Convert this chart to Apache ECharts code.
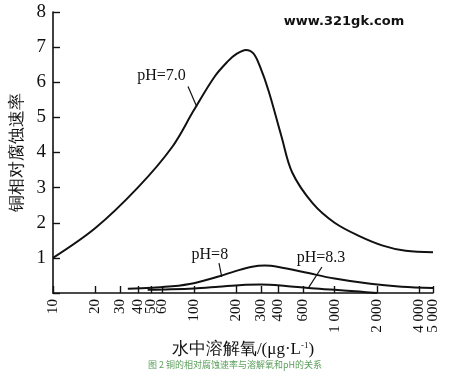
<!DOCTYPE html>
<html>
<head>
<meta charset="utf-8">
<script src="https://cdn.jsdelivr.net/npm/echarts@6/dist/echarts.min.js"></script>
<style>
  html, body { margin: 0; padding: 0; background: #fff; }
  #main { width: 459px; height: 376px; }
</style>
</head>
<body>
<div id="main"></div>
<script>
// tick values on the (log) oxygen axis
var xTicks = [10, 20, 30, 40, 50, 60, 100, 200, 300, 400, 600, 1000, 2000, 4000, 5000];
// labels that sit too close to a neighbour go on a second, bare axis
var xCrowded = [4000];

// pH = 7.0
var ph7X = [10, 20, 40, 70, 100, 140, 175, 200, 235, 265, 295, 340, 420, 500, 700, 1000, 1500, 2200, 3200, 5000];
var ph7Y = [1.0, 1.85, 3.0, 4.15, 5.2, 6.15, 6.6, 6.8, 6.92, 6.82, 6.45, 5.75, 4.45, 3.43, 2.55, 2.0, 1.62, 1.35, 1.2, 1.16];
// pH = 8
var ph8X = [34, 50, 70, 100, 150, 200, 260, 320, 400, 600, 1000, 1800, 3000, 5000];
var ph8Y = [0.12, 0.15, 0.19, 0.28, 0.47, 0.63, 0.75, 0.78, 0.74, 0.6, 0.41, 0.26, 0.18, 0.14];
// pH = 8.3
var ph83X = [47, 60, 100, 150, 220, 300, 450, 650, 1000, 1500, 2000];
var ph83Y = [0.09, 0.1, 0.13, 0.18, 0.23, 0.24, 0.2, 0.14, 0.09, 0.04, 0.0];

// curve labels: text, label position, leader start, leader end (data coords)
var labelText = ['pH=7.0', 'pH=8', 'pH=8.3'];
var labelAt = [[59, 6.19], [130, 1.08], [800, 1.0]];
var leaderFrom = [[91, 5.88], [151, 0.85], [813, 0.74]];
var leaderTo = [[105, 5.3], [158, 0.46], [650, 0.14]];

function lg(v) { return Math.log10(v); }
function pairs(xs, ys) {
  return xs.map(function (x, i) { return [lg(x), ys[i]]; });
}
function fmt(v) {
  var n = Math.round(v);
  return n >= 1000 ? Math.floor(n / 1000) + ' ' + String(n % 1000).padStart(3, '0') : String(n);
}

var serif = 'Liberation Serif';
var chart = echarts.init(document.getElementById('main'));

function lineSeries(xs, ys) {
  return {
    type: 'line',
    data: pairs(xs, ys),
    smooth: 0.35,
    showSymbol: false,
    lineStyle: { color: '#111', width: 2 },
    silent: true
  };
}

var xLabel = {
  rotate: 90, fontFamily: serif, fontSize: 15, color: '#111', margin: 6,
  hideOverlap: false, showMinLabel: true, showMaxLabel: true,
  formatter: function (v) { return fmt(Math.pow(10, v)); }
};

chart.setOption({
  animation: false,
  grid: { left: 53, right: 26, top: 12, bottom: 83 },
  xAxis: [{
    type: 'value',
    min: lg(10),
    max: lg(5000),
    name: '水中溶解氧/(μg·L{sup|-1})',
    nameLocation: 'middle',
    nameGap: 35,
    nameTextStyle: {
      fontFamily: serif, fontSize: 17, color: '#111',
      rich: { sup: { fontFamily: serif, fontSize: 9, color: '#111', verticalAlign: 'top', padding: [0, 0, 8, 0] } }
    },
    axisLine: { lineStyle: { color: '#111', width: 1.6 } },
    axisTick: { inside: true, length: 7, lineStyle: { color: '#111', width: 1.4 },
      customValues: xTicks.map(lg) },
    axisLabel: Object.assign({}, xLabel, {
      customValues: xTicks.filter(function (t) { return xCrowded.indexOf(t) < 0; }).map(lg)
    }),
    splitLine: { show: false }
  }, {
    type: 'value',
    position: 'bottom',
    min: lg(10),
    max: lg(5000),
    axisLine: { show: false },
    axisTick: { show: false },
    axisLabel: Object.assign({}, xLabel, { customValues: xCrowded.map(lg) }),
    splitLine: { show: false }
  }],
  yAxis: {
    type: 'value',
    min: 0,
    max: 8,
    interval: 1,
    name: '铜相对腐蚀速率',
    nameLocation: 'middle',
    nameRotate: 90,
    nameGap: 27,
    nameTextStyle: { fontFamily: serif, fontSize: 17, color: '#111' },
    axisLine: { show: true, lineStyle: { color: '#111', width: 1.6 } },
    axisTick: { inside: true, length: 7, lineStyle: { color: '#111', width: 1.4 } },
    axisLabel: {
      fontFamily: serif, fontSize: 19, color: '#111', margin: 7,
      formatter: function (v) { return v === 0 ? '' : v; }
    },
    splitLine: { show: false }
  },
  series: [lineSeries(ph7X, ph7Y), lineSeries(ph8X, ph8Y), lineSeries(ph83X, ph83Y)]
});

// annotations placed through the chart's own coordinate system
var g = [];
labelText.forEach(function (t, i) {
  var p = chart.convertToPixel({ gridIndex: 0 }, [lg(labelAt[i][0]), labelAt[i][1]]);
  var a = chart.convertToPixel({ gridIndex: 0 }, [lg(leaderFrom[i][0]), leaderFrom[i][1]]);
  var b = chart.convertToPixel({ gridIndex: 0 }, [lg(leaderTo[i][0]), leaderTo[i][1]]);
  g.push({
    type: 'text', x: p[0], y: p[1],
    style: { text: t, fontFamily: serif, fontSize: 16, fill: '#111', align: 'center', verticalAlign: 'middle' }
  });
  g.push({
    type: 'line', shape: { x1: a[0], y1: a[1], x2: b[0], y2: b[1] },
    style: { stroke: '#111', lineWidth: 1.2 }
  });
});
g.push({
  type: 'text', x: 344, y: 22,
  style: { text: 'www.321gk.com', fontFamily: 'DejaVu Sans', fontWeight: 'bold', fontSize: 13, fill: '#111', align: 'center', verticalAlign: 'middle' }
});
g.push({
  type: 'text', x: 235, y: 365,
  style: { text: '图 2 铜的相对腐蚀速率与溶解氧和pH的关系', fontFamily: 'Noto Sans CJK SC', fontSize: 9, fill: '#5a9e5a', align: 'center', verticalAlign: 'middle' }
});
chart.setOption({ graphic: g });
</script>
</body>
</html>
